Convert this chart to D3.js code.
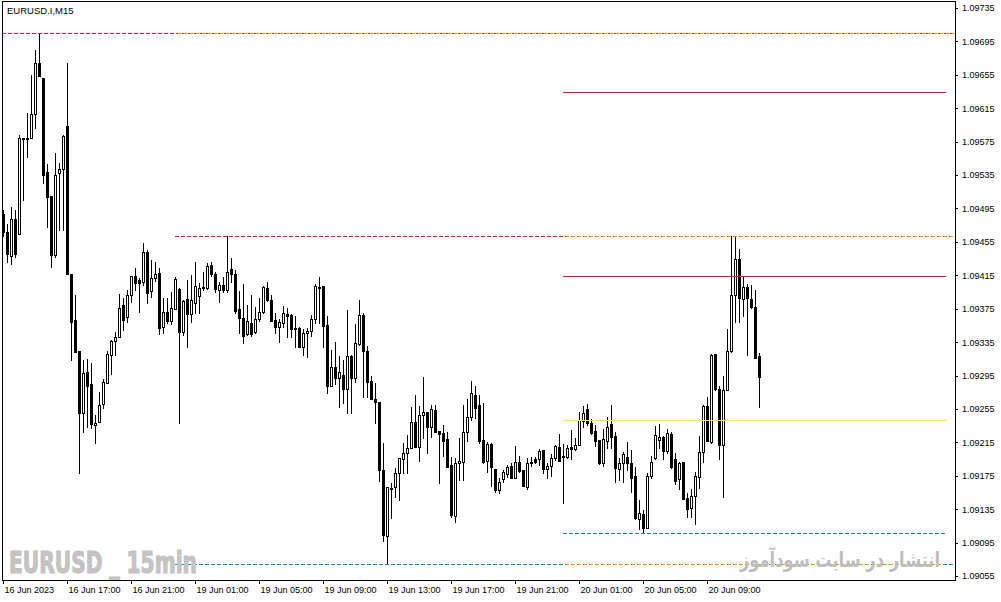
<!DOCTYPE html>
<html><head><meta charset="utf-8">
<script src="https://cdn.jsdelivr.net/npm/d3@7"></script>
<style>html,body{margin:0;padding:0;background:#fff;}svg{display:block;}</style>
</head><body>
<svg id="chart" width="1001" height="602"></svg>
<script>
const symbolTitle = "EURUSD.I,M15";
const watermark = "EURUSD _ 15min";
const watermarkFa = "انتشار در سایت سودآموز";

const opens = [1.09488,1.09467,1.09438,1.09482,1.09464,1.09578,1.09578,1.09579,1.09608,1.09669,
1.09651,1.09539,1.09510,1.09439,1.09537,1.09542,1.09594,1.09416,1.09361,1.09324,
1.09250,1.09299,1.09285,1.09236,1.09239,1.09261,1.09286,1.09320,1.09336,1.09341,
1.09379,1.09365,1.09391,1.09414,1.09409,1.09407,1.09443,1.09396,1.09412,1.09418,
1.09353,1.09371,1.09360,1.09375,1.09399,1.09347,1.09387,1.09369,1.09382,1.09390,
1.09400,1.09400,1.09427,1.09417,1.09397,1.09403,1.09397,1.09423,1.09417,1.09375,
1.09364,1.09345,1.09358,1.09347,1.09363,1.09371,1.09400,1.09385,1.09361,1.09353,
1.09358,1.09369,1.09368,1.09352,1.09352,1.09329,1.09346,1.09348,1.09363,1.09400,
1.09402,1.09355,1.09282,1.09305,1.09292,1.09296,1.09279,1.09318,1.09292,1.09333,
1.09368,1.09324,1.09289,1.09267,1.09263,1.09182,1.09103,1.09160,1.09162,1.09178,
1.09195,1.09202,1.09208,1.09239,1.09209,1.09248,1.09251,1.09233,1.09254,1.09229,
1.09226,1.09219,1.09188,1.09127,1.09190,1.09191,1.09227,1.09245,1.09272,1.09260,
1.09218,1.09193,1.09213,1.09183,1.09158,1.09171,1.09177,1.09187,1.09172,1.09191,
1.09182,1.09162,1.09190,1.09195,1.09195,1.09206,1.09183,1.09187,1.09196,1.09209,
1.09197,1.09198,1.09209,1.09207,1.09212,1.09241,1.09255,1.09238,1.09229,1.09218,
1.09190,1.09217,1.09237,1.09223,1.09183,1.09190,1.09198,1.09190,1.09175,1.09123,
1.09129,1.09112,1.09175,1.09196,1.09218,1.09221,1.09205,1.09225,1.09195,1.09171,
1.09191,1.09148,1.09136,1.09151,1.09174,1.09203,1.09259,1.09215,1.09321,1.09279,
1.09212,1.09278,1.09324,1.09391,1.09434,1.09387,1.09401,1.09387,1.09377,1.09318];

const highs = [1.09493,1.09477,1.09497,1.09493,1.09583,1.09579,1.09609,1.09655,1.09685,1.09705,
1.09651,1.09548,1.09510,1.09561,1.09549,1.09583,1.09669,1.09416,1.09391,1.09324,
1.09314,1.09315,1.09310,1.09248,1.09275,1.09291,1.09324,1.09338,1.09347,1.09393,
1.09388,1.09397,1.09414,1.09424,1.09412,1.09454,1.09445,1.09433,1.09431,1.09424,
1.09388,1.09388,1.09395,1.09413,1.09400,1.09385,1.09409,1.09415,1.09431,1.09406,
1.09419,1.09430,1.09431,1.09419,1.09407,1.09413,1.09462,1.09436,1.09421,1.09396,
1.09405,1.09379,1.09391,1.09377,1.09388,1.09402,1.09407,1.09391,1.09370,1.09363,
1.09378,1.09376,1.09369,1.09366,1.09353,1.09351,1.09352,1.09368,1.09405,1.09413,
1.09402,1.09366,1.09326,1.09335,1.09318,1.09314,1.09373,1.09320,1.09357,1.09385,
1.09370,1.09330,1.09294,1.09286,1.09263,1.09214,1.09162,1.09166,1.09184,1.09196,
1.09214,1.09224,1.09257,1.09272,1.09259,1.09293,1.09251,1.09260,1.09260,1.09229,
1.09236,1.09227,1.09197,1.09196,1.09220,1.09260,1.09267,1.09289,1.09282,1.09272,
1.09262,1.09215,1.09214,1.09183,1.09172,1.09182,1.09188,1.09190,1.09211,1.09199,
1.09182,1.09196,1.09197,1.09197,1.09207,1.09206,1.09190,1.09201,1.09212,1.09225,
1.09213,1.09212,1.09230,1.09220,1.09251,1.09259,1.09261,1.09243,1.09236,1.09218,
1.09231,1.09245,1.09260,1.09227,1.09196,1.09203,1.09215,1.09206,1.09186,1.09146,
1.09134,1.09178,1.09199,1.09235,1.09237,1.09223,1.09231,1.09227,1.09202,1.09191,
1.09191,1.09154,1.09159,1.09180,1.09223,1.09260,1.09269,1.09321,1.09321,1.09282,
1.09294,1.09351,1.09462,1.09462,1.09446,1.09413,1.09405,1.09403,1.09397,1.09322];

const lows = [1.09462,1.09431,1.09429,1.09437,1.09464,1.09505,1.09557,1.09579,1.09591,1.09653,
1.09525,1.09473,1.09425,1.09437,1.09469,1.09469,1.09416,1.09314,1.09323,1.09178,
1.09227,1.09233,1.09232,1.09214,1.09239,1.09256,1.09286,1.09297,1.09320,1.09341,
1.09349,1.09359,1.09383,1.09397,1.09371,1.09403,1.09382,1.09389,1.09408,1.09345,
1.09346,1.09358,1.09357,1.09375,1.09238,1.09344,1.09329,1.09359,1.09370,1.09370,
1.09397,1.09399,1.09414,1.09395,1.09383,1.09395,1.09395,1.09407,1.09370,1.09346,
1.09334,1.09344,1.09342,1.09346,1.09360,1.09370,1.09384,1.09360,1.09346,1.09335,
1.09353,1.09341,1.09341,1.09329,1.09329,1.09320,1.09317,1.09342,1.09358,1.09358,
1.09329,1.09274,1.09282,1.09285,1.09257,1.09262,1.09250,1.09250,1.09287,1.09332,
1.09269,1.09269,1.09267,1.09238,1.09169,1.09097,1.09069,1.09124,1.09150,1.09146,
1.09178,1.09178,1.09208,1.09209,1.09193,1.09220,1.09202,1.09221,1.09227,1.09166,
1.09199,1.09186,1.09126,1.09120,1.09170,1.09170,1.09217,1.09242,1.09244,1.09214,
1.09190,1.09180,1.09163,1.09156,1.09154,1.09168,1.09174,1.09172,1.09172,1.09180,
1.09163,1.09159,1.09187,1.09190,1.09188,1.09178,1.09172,1.09175,1.09194,1.09193,
1.09142,1.09196,1.09195,1.09206,1.09212,1.09233,1.09236,1.09225,1.09211,1.09189,
1.09187,1.09208,1.09208,1.09168,1.09170,1.09168,1.09182,1.09156,1.09123,1.09111,
1.09106,1.09112,1.09172,1.09195,1.09208,1.09195,1.09202,1.09184,1.09165,1.09159,
1.09147,1.09126,1.09126,1.09117,1.09160,1.09191,1.09217,1.09214,1.09278,1.09195,
1.09150,1.09278,1.09323,1.09359,1.09359,1.09366,1.09320,1.09376,1.09316,1.09257];

const closes = [1.09467,1.09441,1.09482,1.09441,1.09579,1.09579,1.09579,1.09608,1.09669,1.09653,
1.09535,1.09509,1.09439,1.09535,1.09542,1.09582,1.09416,1.09359,1.09323,1.09250,
1.09298,1.09282,1.09237,1.09238,1.09260,1.09287,1.09321,1.09336,1.09341,1.09376,
1.09361,1.09391,1.09414,1.09406,1.09406,1.09443,1.09394,1.09412,1.09417,1.09352,
1.09371,1.09360,1.09376,1.09411,1.09347,1.09384,1.09369,1.09385,1.09402,1.09400,
1.09401,1.09426,1.09417,1.09399,1.09403,1.09397,1.09419,1.09417,1.09372,1.09364,
1.09342,1.09360,1.09345,1.09363,1.09371,1.09401,1.09385,1.09360,1.09353,1.09359,
1.09370,1.09366,1.09351,1.09351,1.09329,1.09346,1.09348,1.09363,1.09402,1.09401,
1.09354,1.09282,1.09305,1.09292,1.09299,1.09279,1.09318,1.09292,1.09334,1.09368,
1.09324,1.09287,1.09267,1.09263,1.09182,1.09104,1.09162,1.09159,1.09178,1.09196,
1.09202,1.09208,1.09239,1.09209,1.09248,1.09251,1.09233,1.09255,1.09227,1.09225,
1.09217,1.09186,1.09128,1.09190,1.09193,1.09227,1.09245,1.09274,1.09256,1.09217,
1.09191,1.09213,1.09186,1.09158,1.09168,1.09180,1.09186,1.09172,1.09191,1.09181,
1.09163,1.09190,1.09191,1.09191,1.09205,1.09183,1.09187,1.09196,1.09211,1.09193,
1.09199,1.09208,1.09207,1.09212,1.09242,1.09250,1.09238,1.09226,1.09217,1.09190,
1.09219,1.09233,1.09221,1.09184,1.09190,1.09201,1.09190,1.09172,1.09124,1.09130,
1.09112,1.09175,1.09191,1.09224,1.09221,1.09205,1.09226,1.09186,1.09169,1.09190,
1.09147,1.09135,1.09151,1.09175,1.09203,1.09259,1.09217,1.09320,1.09279,1.09212,
1.09278,1.09324,1.09391,1.09434,1.09388,1.09401,1.09388,1.09377,1.09316,1.09293];

const timeTickBars = [0,16,32,48,64,80,96,112,128,144,160,176];
const timeTickLabels = ["16 Jun 2023","16 Jun 17:00","16 Jun 21:00","19 Jun 01:00","19 Jun 05:00",
"19 Jun 09:00","19 Jun 13:00","19 Jun 17:00","19 Jun 21:00","20 Jun 01:00","20 Jun 05:00","20 Jun 09:00"];
const priceTicks = [1.09055,1.09095,1.09135,1.09175,1.09215,1.09255,1.09295,1.09335,1.09375,
1.09415,1.09455,1.09495,1.09535,1.09575,1.09615,1.09655,1.09695,1.09735];

// horizontal level objects: price, start bar, end bar, kind
const levelPrices = [1.09705,1.09705,1.09462,1.09462,1.09635,1.09414,1.09242,1.09106,1.09069,1.09069];
const levelFrom   = [-0.25,43,43,140,140,140,140,140,43,140];
const levelTo     = [238,238,238,238,235.75,235.75,235.75,235.5,238,235];
const levelKind   = ["redDash","orangeDash","redDash","orangeDash","red","red","yellow","tealDash","tealDash","orangeDash"];

const styles = {
  redDash:   {stroke:"#dc143c", dash:"4,2", off:0},
  orangeDash:{stroke:"#ff9900", dash:"3,3", off:3},
  red:       {stroke:"#dc143c", dash:null, off:0},
  yellow:    {stroke:"#ffff00", dash:null, off:0},
  tealDash:  {stroke:"#1f8a80", dash:"4,2", off:0}
};

const svg = d3.select("#chart");
const W = 1001, H = 602;
const plotL = 2, plotR = 955, plotT = 1, plotB = 580;
const x = d3.scaleLinear().domain([0, 238]).range([3, 955]);
const y = d3.scaleLinear().domain([1.09055, 1.09735]).range([576, 8]);

svg.append("rect").attr("width", W).attr("height", H).attr("fill", "#fff");

svg.append("defs").append("clipPath").attr("id","plotclip")
  .append("rect").attr("x", plotL+1).attr("y", plotT+1).attr("width", plotR-plotL-1).attr("height", plotB-plotT-1);

const plot = svg.append("g").attr("clip-path","url(#plotclip)").attr("shape-rendering","crispEdges");

const bars = d3.range(opens.length).map(i => ({i, o:opens[i], h:highs[i], l:lows[i], c:closes[i]}));

const cg = plot.append("g");
bars.forEach(b => {
  const c = Math.round(x(b.i));
  const yh = Math.round(y(b.h)), yl = Math.round(y(b.l));
  const top = Math.round(y(Math.max(b.o, b.c))), bot = Math.round(y(Math.min(b.o, b.c)));
  cg.append("rect").attr("x", c).attr("y", yh).attr("width", 1).attr("height", Math.max(1, yl - yh + 1)).attr("fill", "#000");
  if (b.c >= b.o) {
    cg.append("rect").attr("x", c - 0.5).attr("y", top + 0.5).attr("width", 2).attr("height", Math.max(0, bot - top))
      .attr("fill", "#fff").attr("stroke", "#000").attr("stroke-width", 1);
  } else {
    cg.append("rect").attr("x", c - 1).attr("y", top).attr("width", 3).attr("height", Math.max(1, bot - top + 1)).attr("fill", "#000");
  }
});

const lg = plot.append("g");
levelPrices.forEach((p, k) => {
  const st = styles[levelKind[k]];
  const yy = Math.round(y(p)) + 0.5;
  const ln = lg.append("line")
    .attr("x1", x(levelFrom[k])).attr("x2", x(levelTo[k]))
    .attr("y1", yy).attr("y2", yy)
    .attr("stroke", st.stroke).attr("stroke-width", 1);
  if (st.dash) ln.attr("stroke-dasharray", st.dash).attr("stroke-dashoffset", st.off);
});

// watermark texts
svg.append("text").attr("x", 9).attr("y", 573)
  .attr("font-family", "'Liberation Sans Narrow','DejaVu Sans Condensed','Arial Narrow',sans-serif")
  .attr("font-weight", "bold").attr("font-size", 31)
  .attr("textLength", 188).attr("lengthAdjust", "spacingAndGlyphs")
  .attr("fill", "#c3c3c3").attr("stroke", "#c3c3c3").attr("stroke-width", 1.2)
  .text(watermark);

svg.append("text").attr("x", 840).attr("y", 567)
  .attr("text-anchor", "middle").attr("direction", "rtl")
  .attr("font-family", "'DejaVu Sans',sans-serif").attr("font-size", 21).attr("font-weight", "bold")
  .attr("textLength", 200).attr("lengthAdjust", "spacingAndGlyphs")
  .attr("fill", "#bdbdbd").text(watermarkFa);

// frame
svg.append("rect").attr("x", plotL + 0.5).attr("y", plotT + 0.5)
  .attr("width", plotR - plotL).attr("height", plotB - plotT)
  .attr("fill", "none").attr("stroke", "#000").attr("stroke-width", 1).attr("shape-rendering","crispEdges");

// title
svg.append("text").attr("x", 7).attr("y", 14)
  .attr("font-family", "'Liberation Sans',Arial,sans-serif").attr("font-size", 9.5)
  .attr("fill", "#000").text(symbolTitle);

// y axis
const yAxis = d3.axisRight(y).tickValues(priceTicks).tickSize(3).tickPadding(4).tickFormat(d3.format(".5f"));
const ya = svg.append("g").attr("transform", `translate(${plotR},0)`).call(yAxis);
ya.select(".domain").remove();
ya.selectAll("line").attr("stroke", "#000").attr("shape-rendering","crispEdges");
ya.selectAll("text").attr("font-family", "'Liberation Sans',Arial,sans-serif").attr("font-size", 9).attr("fill", "#000");

// x axis
const xAxis = d3.axisBottom(x).tickValues(timeTickBars).tickSize(4)
  .tickFormat((d, i) => timeTickLabels[i]);
const xa = svg.append("g").attr("transform", `translate(0,${plotB})`).call(xAxis);
xa.select(".domain").remove();
xa.selectAll("line").attr("stroke", "#000").attr("shape-rendering","crispEdges");
xa.selectAll("text").attr("text-anchor", "start").attr("x", 1).attr("y", 7).attr("dy", "0.71em")
  .attr("font-family", "'Liberation Sans',Arial,sans-serif").attr("font-size", 9).attr("fill", "#000");
</script>
</body></html>
